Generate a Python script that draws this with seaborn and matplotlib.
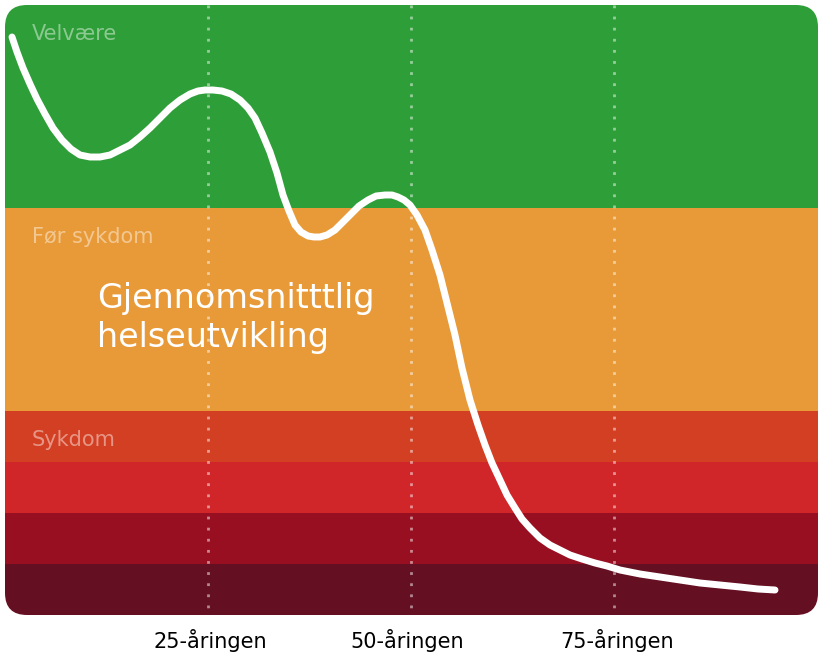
import numpy as np
import pandas as pd
import matplotlib
matplotlib.use("Agg")
import matplotlib.pyplot as plt
import seaborn as sns
from matplotlib.patches import FancyBboxPatch

# bands (top, bottom in pixel units of the panel), colours, labels
band_top = [5, 208, 411, 462, 513, 564]
band_bottom = [208, 411, 462, 513, 564, 615]
band_colors = ["#2e9e38", "#e89a38", "#d33f22", "#d0262a", "#990f22", "#650f22"]
band_labels = ["Velvære", "Før sykdom", "Sykdom", "", "", ""]

# health curve
curve_x = [12, 17, 23, 30, 37, 45, 53, 62, 71, 80, 90, 100, 110, 120, 130, 140, 150,
           160, 170, 180, 190, 198, 205, 213, 222, 231, 240, 248, 255, 262, 270, 277,
           283, 289, 295, 301, 308, 314, 320, 327, 335, 343, 350, 359, 368, 376, 385,
           392, 398, 404, 410, 417, 425, 432, 440, 447, 455, 462, 470, 478, 485, 492,
           500, 507, 515, 522, 530, 540, 550, 560, 570, 582, 595, 607, 620, 640, 660,
           680, 700, 720, 740, 758, 775]
curve_y = [37, 52, 68, 84, 99, 114, 128, 140, 149, 155, 157, 157, 155, 150, 145, 137,
           128, 118, 108, 100, 94, 91, 90, 90, 91, 94, 100, 108, 118, 133, 152, 173,
           195, 211, 225, 232, 236, 237, 237, 235, 230, 222, 215, 206, 200, 196, 195,
           195, 197, 200, 205, 215, 230, 250, 275, 303, 335, 368, 400, 425, 445, 463,
           480, 495, 508, 519, 528, 538, 545, 550, 555, 559, 563, 566, 570, 574, 577,
           580, 583, 585, 587, 589, 590]

ages = ["25-åringen", "50-åringen", "75-åringen"]
age_x = [208, 411, 614]
age_label_x = [210, 407, 617]

fig = plt.figure(figsize=(8.28, 6.52), dpi=100)
ax = fig.add_axes([0, 0, 1, 1])

clip = FancyBboxPatch((5, 5), 813, 610, boxstyle="round,pad=0,rounding_size=22",
                      transform=ax.transData, facecolor="none", edgecolor="none")
ax.add_patch(clip)

bars = ax.barh([(t + b) / 2 for t, b in zip(band_top, band_bottom)],
               [813] * 6, height=[b - t for t, b in zip(band_top, band_bottom)],
               left=5, color=band_colors, linewidth=0)
for p in bars:
    p.set_clip_path(clip)
for t, lab in zip(band_top, band_labels):
    if lab:
        ax.text(32, t + 29, lab, color="white", alpha=0.45, fontsize=15, va="center")

for x in age_x:
    ax.plot([x, x], [5, 615], color="white", alpha=0.5, lw=2, ls=(0, (1, 3)))

ax.text(97, 318, "Gjennomsnitttlig\nhelseutvikling", color="white", fontsize=24,
        va="center", linespacing=1.2)

df = pd.DataFrame({"x": curve_x, "y": curve_y})
sns.lineplot(data=df, x="x", y="y", ax=ax, color="white", lw=5, sort=False,
             solid_capstyle="round", solid_joinstyle="round")
ax.set_xlim(0, 828)
ax.set_ylim(652, 0)
ax.axis("off")

for x, lab in zip(age_label_x, ages):
    ax.text(x, 640, lab, ha="center", va="center", fontsize=15, color="black")

fig.savefig("out.png", dpi=100, facecolor="white")
